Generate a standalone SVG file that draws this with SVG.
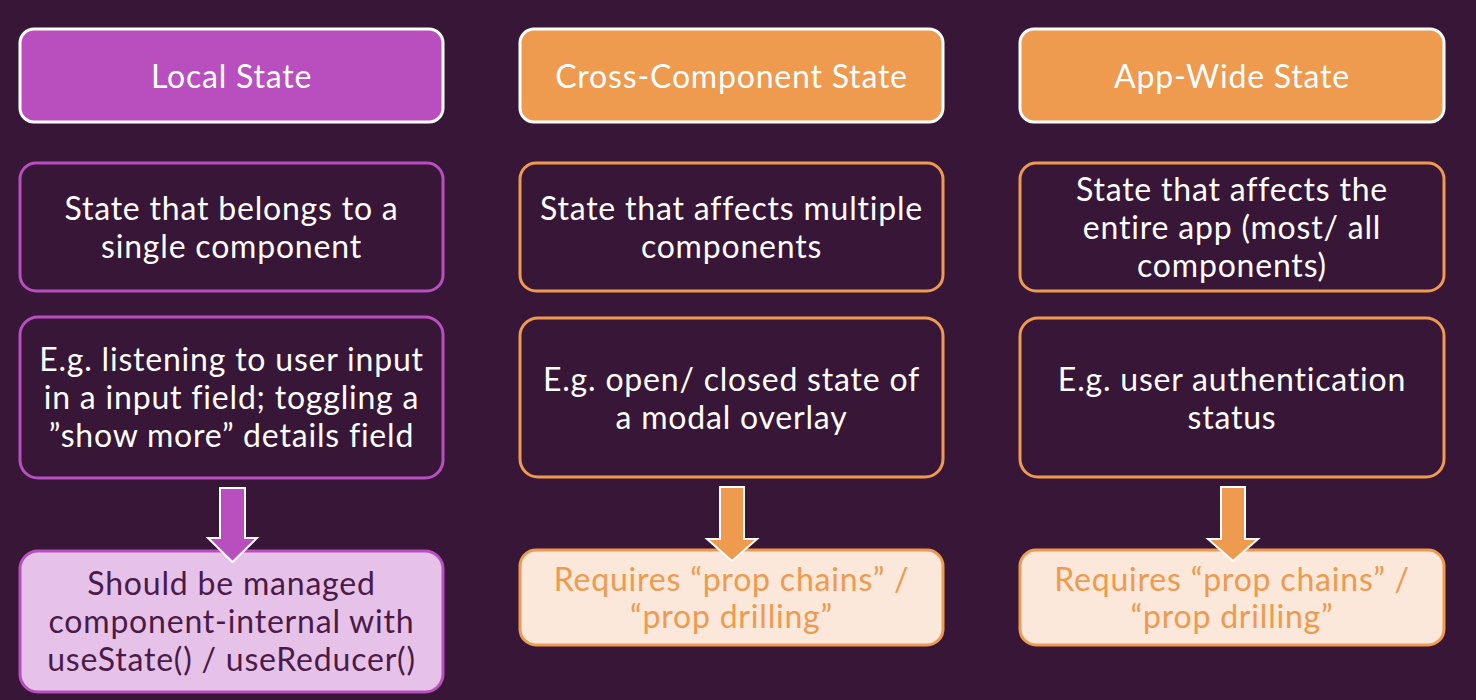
<svg xmlns="http://www.w3.org/2000/svg" width="1476" height="700" viewBox="0 0 1476 700">
<style>
text{font-family:"Lato","Noto Sans",sans-serif;font-size:32px;letter-spacing:0.8px;text-anchor:middle;fill:#ffffff}
.hdr{stroke:#ffffff;stroke-width:3}
.p{fill:#b94fbf}
.o{fill:#ee9a4f}
.bp{fill:#371637;stroke:#b94fbf;stroke-width:3}
.bo{fill:#371637;stroke:#ee9a4f;stroke-width:3}
.lp{fill:#e6c2e8;stroke:#b94fbf;stroke-width:3}
.lo{fill:#fbe8da;stroke:#ee9a4f;stroke-width:3}
.tp{fill:#4a1a48}
.to{fill:#ee9a4f}
.arr{stroke:#ffffff;stroke-width:2;stroke-linejoin:miter}
</style>
<rect width="1476" height="700" fill="#371637"/>
<g id="local-header"><rect class="hdr p" x="20" y="29" width="423" height="93" rx="14"/><text x="231.5" y="88">Local State</text></g>
<g id="cross-header"><rect class="hdr o" x="520" y="29" width="423" height="93" rx="14"/><text x="731.5" y="88">Cross-Component State</text></g>
<g id="app-header"><rect class="hdr o" x="1020" y="29" width="424" height="93" rx="14"/><text x="1232" y="88">App-Wide State</text></g>

<g id="local-desc"><rect class="bp" x="20" y="163" width="423" height="128" rx="16"/><text x="231.5" y="220">State that belongs to a</text><text x="231.5" y="258">single component</text></g>
<g id="cross-desc"><rect class="bo" x="520" y="163" width="423" height="128" rx="16"/><text x="731.5" y="220">State that affects multiple</text><text x="731.5" y="258">components</text></g>
<g id="app-desc"><rect class="bo" x="1020" y="163" width="424" height="128" rx="16"/><text x="1232" y="201">State that affects the</text><text x="1232" y="239">entire app (most/ all</text><text x="1232" y="277">components)</text></g>

<g id="local-example"><rect class="bp" x="20" y="317" width="423" height="161" rx="18"/><text x="231.5" y="371">E.g. listening to user input</text><text x="231.5" y="409">in a input field; toggling a</text><text x="231.5" y="447">”show more” details field</text></g>
<g id="cross-example"><rect class="bo" x="520" y="318" width="423" height="159" rx="18"/><text x="731.5" y="391">E.g. open/ closed state of</text><text x="731.5" y="429">a modal overlay</text></g>
<g id="app-example"><rect class="bo" x="1020" y="318" width="424" height="159" rx="18"/><text x="1232" y="391">E.g. user authentication</text><text x="1232" y="429">status</text></g>

<g id="local-result"><rect class="lp" x="20" y="551" width="423" height="141" rx="18"/><text class="tp" x="231.5" y="595">Should be managed</text><text class="tp" x="231.5" y="633">component-internal with</text><text class="tp" x="231.5" y="671">useState() / useReducer()</text></g>
<g id="cross-result"><rect class="lo" x="520" y="550" width="423" height="95" rx="16"/><text class="to" x="731.5" y="591">Requires “prop chains” /</text><text class="to" x="731.5" y="628">“prop drilling”</text></g>
<g id="app-result"><rect class="lo" x="1020" y="550" width="424" height="95" rx="16"/><text class="to" x="1232" y="591">Requires “prop chains” /</text><text class="to" x="1232" y="628">“prop drilling”</text></g>

<g id="connectors">
<polygon class="arr p" points="220,488 245,488 245,538 257,538 232.5,562 208,538 220,538"/>
<polygon class="arr o" points="720,487 744,487 744,539 757,539 732,561 707,539 720,539"/>
<polygon class="arr o" points="1221,487 1245,487 1245,539 1258,539 1233,561 1208,539 1221,539"/>
</g>
</svg>
